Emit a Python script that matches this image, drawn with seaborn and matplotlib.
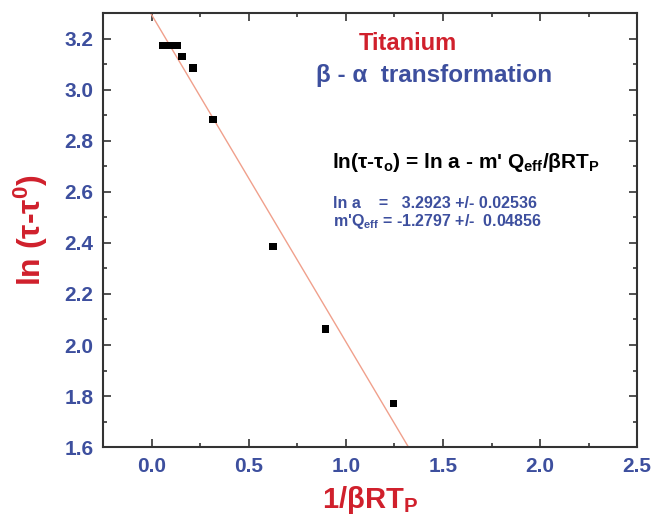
import numpy as np
import pandas as pd
import matplotlib
matplotlib.use("Agg")
import matplotlib.pyplot as plt
from matplotlib.ticker import MultipleLocator, FormatStrFormatter
import seaborn as sns

# data
inv_beta_rt = [0.056, 0.095, 0.133, 0.157, 0.214, 0.314, 0.623, 0.895, 1.246]
ln_tau = [3.173, 3.173, 3.173, 3.130, 3.085, 2.883, 2.386, 2.063, 1.771]

# linear fit parameters quoted in the chart
ln_a = 3.2923
ln_a_err = 0.02536
m_q_eff = -1.2797
m_q_eff_err = 0.04856

RED = "#d0202c"
BLUE = "#3d4f9e"
LINE = "#f0a08c"

sns.set_style("ticks")
plt.rcParams["font.family"] = ["Liberation Sans", "DejaVu Sans"]
plt.rcParams["font.weight"] = "bold"
plt.rcParams["mathtext.fontset"] = "custom"
plt.rcParams["mathtext.rm"] = "Liberation Sans:bold"
plt.rcParams["mathtext.bf"] = "Liberation Sans:bold"
plt.rcParams["mathtext.it"] = "Liberation Sans:bold"

df = pd.DataFrame({"x": inv_beta_rt, "y": ln_tau})

fig = plt.figure(figsize=(6.7, 5.2), dpi=100)
ax = fig.add_axes([0.154, 0.140, 0.797, 0.835])

ax.axline((0, ln_a), slope=m_q_eff, color=LINE, lw=1.0, zorder=1)
sns.scatterplot(data=df, x="x", y="y", marker="s", s=30, color="black",
                edgecolor="none", ax=ax, zorder=3)

ax.set_xlim(-0.25, 2.5)
ax.set_ylim(1.6, 3.3)
ax.xaxis.set_major_locator(MultipleLocator(0.5))
ax.xaxis.set_minor_locator(MultipleLocator(0.25))
ax.yaxis.set_major_locator(MultipleLocator(0.2))
ax.yaxis.set_minor_locator(MultipleLocator(0.1))
ax.xaxis.set_major_formatter(FormatStrFormatter("%.1f"))
ax.yaxis.set_major_formatter(FormatStrFormatter("%.1f"))

ax.tick_params(which="both", direction="in", top=True, right=True,
               color="#333333", width=1.2)
ax.tick_params(which="major", length=6, labelsize=15, labelcolor=BLUE, pad=7)
ax.tick_params(which="minor", length=3)
for lbl in ax.get_xticklabels() + ax.get_yticklabels():
    lbl.set_fontweight("bold")
for sp in ax.spines.values():
    sp.set_color("#333333")
    sp.set_linewidth(1.5)

ax.set_xlabel(r"1/βRT$_\mathbf{P}$", color=RED, fontsize=21, fontweight="bold",
              labelpad=6)
ax.set_ylabel(r"ln (τ-τ$^\mathbf{0}$)", color=RED, fontsize=23, fontweight="bold",
              labelpad=10)

ax.text(1.317, 3.18, "Titanium", color=RED, fontsize=17, fontweight="bold",
        ha="center", va="center")
ax.text(1.455, 3.055, "β - α  transformation", color=BLUE, fontsize=17.5,
        fontweight="bold", ha="center", va="center")
ax.text(0.927, 2.715, r"ln(τ-τ$_\mathbf{o}$) = ln a - m' Q$_\mathbf{eff}$/βRT$_\mathbf{P}$",
        color="black", fontsize=15, fontweight="bold", ha="left", va="center")
ax.text(0.932, 2.556, f"ln a    =   {ln_a:.4f} +/- {ln_a_err:.5f}",
        color=BLUE, fontsize=11.5, fontweight="bold", ha="left", va="center")
ax.text(0.932, 2.484, f"m'Q$_\\mathbf{{eff}}$ = {m_q_eff:.4f} +/-  {m_q_eff_err:.5f}",
        color=BLUE, fontsize=11.5, fontweight="bold", ha="left", va="center")

fig.savefig("out.png", dpi=100)
